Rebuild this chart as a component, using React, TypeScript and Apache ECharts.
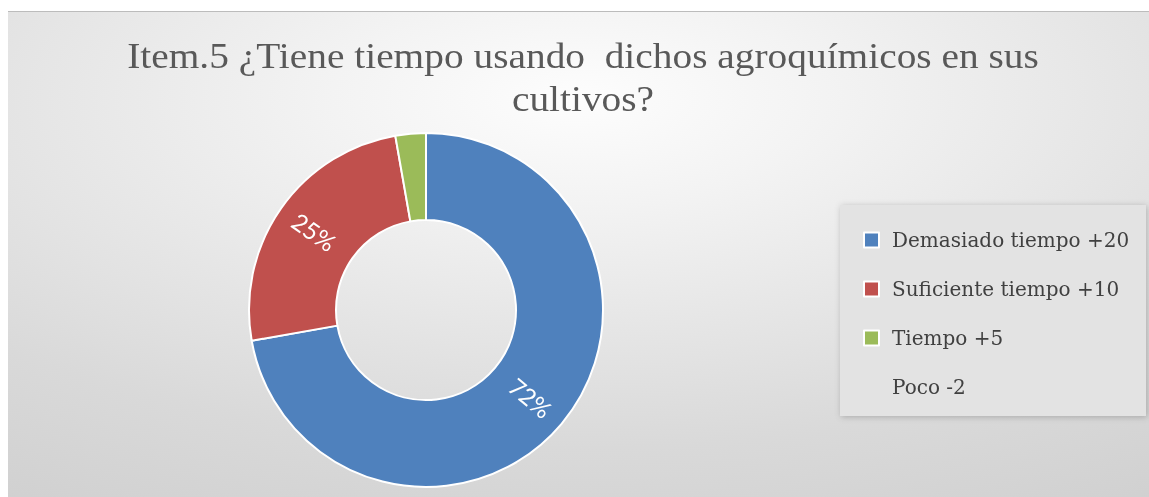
import React, { useEffect, useRef } from "react";
import * as echarts from "echarts";

const titleText = "Item.5 ¿Tiene tiempo usando  dichos agroquímicos en sus\ncultivos?";
const categories = ["Demasiado tiempo +20", "Suficiente tiempo +10", "Tiempo +5", "Poco -2"];
const values = [26, 9, 1, 0];
const colors = ["#4f81bd", "#c0504d", "#9bbb59", "rgba(0,0,0,0)"];
const showLabel = [true, true, false, false];

export default function App() {
  const ref = useRef<HTMLDivElement>(null);
  useEffect(() => {
    if (!ref.current) return;
    const chart = echarts.init(ref.current, undefined, { renderer: "svg" });
    chart.setOption({
      animation: false,
      backgroundColor: {
        type: "radial",
        x: 0.5,
        y: 0.18,
        r: 1.44,
        colorStops: [
          { offset: 0, color: "#fdfdfd" },
          { offset: 0.15, color: "#f3f3f3" },
          { offset: 0.5, color: "#d9d9d9" },
          { offset: 0.8, color: "#cacaca" },
          { offset: 1, color: "#bdbdbd" },
        ],
      },
      graphic: [
        {
          type: "line",
          shape: { x1: 0, y1: 0.5, x2: 1141, y2: 0.5 },
          style: { stroke: "#bcbcbc", lineWidth: 1 },
          silent: true,
        },
        {
          type: "text",
          x: 575,
          y: 24,
          scaleX: 1.125,
          style: {
            text: titleText,
            textAlign: "center",
            textVerticalAlign: "top",
            fontFamily: "Liberation Serif",
            fontSize: 35,
            lineHeight: 43,
            fill: "#595959",
          },
          silent: true,
        },
        {
          type: "rect",
          shape: { x: 832, y: 194, width: 306, height: 211 },
          style: {
            fill: "#e3e3e3",
            shadowBlur: 6,
            shadowColor: "rgba(0,0,0,0.22)",
            shadowOffsetX: 1,
            shadowOffsetY: 1,
          },
          z: 1,
          silent: true,
        },
      ],
      legend: {
        orient: "vertical",
        left: 850,
        top: 214,
        padding: 5,
        icon: "rect",
        itemWidth: 15,
        itemHeight: 15,
        itemGap: 29,
        data: categories.map((name, i) =>
          values[i] === 0
            ? { name, itemStyle: { color: "rgba(0,0,0,0)", opacity: 0 } }
            : { name }
        ),
        textStyle: {
          fontFamily: "DejaVu Serif",
          fontSize: 20,
          color: "#404040",
          lineHeight: 20,
          padding: [0, 0, 0, 8],
        },
      },
      series: [
        {
          type: "pie",
          center: [418, 299],
          radius: [90, 177],
          startAngle: 90,
          clockwise: true,
          avoidLabelOverlap: false,
          itemStyle: { borderColor: "#ffffff", borderWidth: 2 },
          label: {
            show: true,
            position: "inside",
            rotate: "radial",
            color: "#ffffff",
            fontFamily: "Lato",
            fontSize: 24,
            formatter: (p: any) => (showLabel[p.dataIndex] ? `${Math.round(p.percent)}%` : ""),
          },
          labelLine: { show: false },
          emphasis: { disabled: true },
          data: categories.map((name, i) => ({
            name,
            value: values[i],
            itemStyle:
              values[i] === 0
                ? { color: colors[i], borderWidth: 0 }
                : { color: colors[i] },
          })),
        },
      ],
    });
    return () => chart.dispose();
  }, []);
  return (
    <div
      ref={ref}
      style={{ position: "fixed", left: 8, top: 11, width: 1141, height: 486 }}
    />
  );
}
